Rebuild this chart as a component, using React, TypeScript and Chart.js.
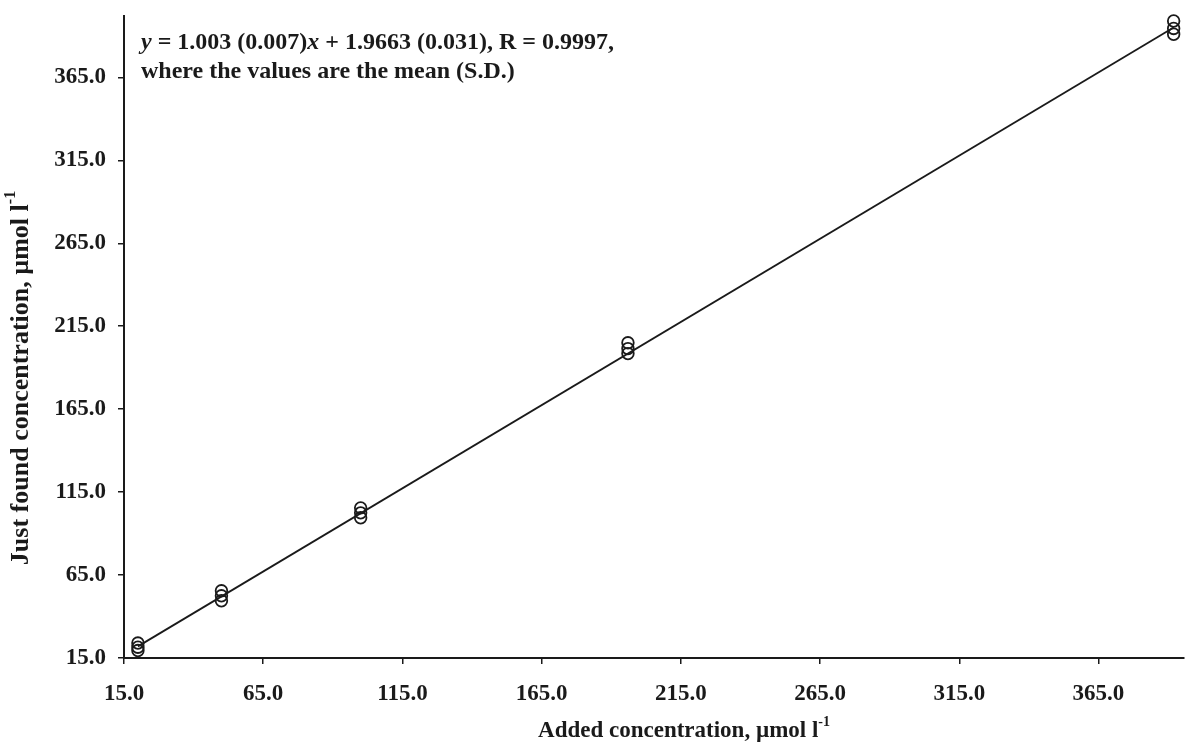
import React, { useEffect, useRef } from "react";
import { Chart, registerables } from "chart.js";

Chart.register(...registerables);

// ---- data ----
const addedX = [20, 20, 20, 50, 50, 50, 100, 100, 100, 196, 196, 196, 392, 392, 392];
const foundY = [19.5, 21.5, 24.0, 49.5, 52.5, 55.5, 99.5, 102.5, 105.5, 198.5, 201.5, 205.0, 391.0, 394.5, 399.0];
const fitX = [20, 392];
const fitY = [22.0, 395.1];
const xTicks = [15, 65, 115, 165, 215, 265, 315, 365];
const yTicks = [15, 65, 115, 165, 215, 265, 315, 365];
const xTitle = "Added concentration, \u00b5mol l";
const yTitle = "Just found concentration, \u00b5mol l";
const unitSup = "-1";
const eqLine1 = [
  { t: "y", i: true },
  { t: " = 1.003 (0.007)", i: false },
  { t: "x", i: true },
  { t: " + 1.9663 (0.031), R = 0.9997,", i: false },
];
const eqLine2 = "where the values are the mean (S.D.)";

const FONT = "'Liberation Serif', 'Times New Roman', serif";
const INK = "#1a1a1a";

type Seg = { t: string; i?: boolean; sup?: boolean };

function segFont(s: Seg, size: number) {
  const sz = s.sup ? Math.round(size * 0.6) : size;
  return `${s.i ? "italic " : ""}bold ${sz}px ${FONT}`;
}

function drawRich(ctx: CanvasRenderingContext2D, segs: Seg[], x: number, y: number, size: number, align: "left" | "center") {
  let total = 0;
  const widths = segs.map((s) => {
    ctx.font = segFont(s, size);
    const w = ctx.measureText(s.t).width;
    total += w;
    return w;
  });
  let cx = align === "center" ? x - total / 2 : x;
  ctx.textAlign = "left";
  ctx.textBaseline = "middle";
  segs.forEach((s, k) => {
    ctx.font = segFont(s, size);
    ctx.fillText(s.t, cx, s.sup ? y - size * 0.38 : y);
    cx += widths[k];
  });
}

const textPlugin = {
  id: "textPlugin",
  afterDraw(chart: any) {
    const ctx: CanvasRenderingContext2D = chart.ctx;
    ctx.save();
    ctx.fillStyle = INK;
    // annotation
    drawRich(ctx, eqLine1, 141, 43, 24, "left");
    drawRich(ctx, [{ t: eqLine2 }], 141, 72, 24, "left");
    // x title
    drawRich(ctx, [{ t: xTitle }, { t: unitSup, sup: true }], 684, 731, 23, "center");
    // y title
    ctx.translate(21, 378);
    ctx.rotate(-Math.PI / 2);
    drawRich(ctx, [{ t: yTitle }, { t: unitSup, sup: true }], 0, 0, 26, "center");
    ctx.restore();
  },
};

function zeroPad(scale: any) {
  scale.paddingTop = 0;
  scale.paddingBottom = 0;
  scale.paddingLeft = 0;
  scale.paddingRight = 0;
}

export default function App() {
  const ref = useRef<HTMLCanvasElement | null>(null);

  useEffect(() => {
    document.body.style.margin = "0";
    document.body.style.background = "#ffffff";
    const canvas = ref.current;
    if (!canvas) return;
    const points = addedX.map((x, k) => ({ x, y: foundY[k] }));
    const fit = fitX.map((x, k) => ({ x, y: fitY[k] }));
    const tickFont = { family: FONT, size: 23, weight: "bold" as const };

    const chart = new Chart(canvas, {
      type: "scatter",
      data: {
        datasets: [
          {
            label: "fit",
            data: fit,
            showLine: true,
            borderColor: INK,
            borderWidth: 1.8,
            pointRadius: 0,
            clip: false as any,
          },
          {
            label: "measured",
            data: points,
            pointStyle: "circle",
            pointRadius: 5.8,
            pointBorderWidth: 1.8,
            borderColor: INK,
            backgroundColor: "rgba(0,0,0,0)",
            clip: false as any,
          },
        ],
      },
      options: {
        animation: false,
        responsive: false,
        maintainAspectRatio: false,
        layout: { padding: { top: 16, right: 3, left: 0, bottom: 0 } },
        plugins: {
          legend: { display: false },
          tooltip: { enabled: false },
          title: { display: false },
        },
        scales: {
          x: {
            type: "linear",
            min: 15,
            max: 395.5,
            afterBuildTicks: (scale: any) => {
              scale.ticks = xTicks.map((v) => ({ value: v }));
            },
            afterFit: (scale: any) => {
              scale.height = 85;
              zeroPad(scale);
            },
            ticks: {
              autoSkip: false,
              maxRotation: 0,
              padding: 16,
              color: INK,
              font: tickFont,
              callback: (v: any) => Number(v).toFixed(1),
            },
            grid: {
              display: true,
              drawOnChartArea: false,
              drawTicks: true,
              tickLength: 6,
              color: INK,
              lineWidth: 1.5,
            },
            border: { display: true, color: INK, width: 2 },
          },
          y: {
            type: "linear",
            min: 15,
            max: 402,
            afterBuildTicks: (scale: any) => {
              scale.ticks = yTicks.map((v) => ({ value: v }));
            },
            afterFit: (scale: any) => {
              scale.width = 124;
              zeroPad(scale);
            },
            ticks: {
              autoSkip: false,
              padding: 12,
              color: INK,
              font: tickFont,
              callback: (v: any) => Number(v).toFixed(1),
            },
            grid: {
              display: true,
              drawOnChartArea: false,
              drawTicks: true,
              tickLength: 6,
              color: INK,
              lineWidth: 1.5,
            },
            border: { display: true, color: INK, width: 2 },
          },
        },
      },
      plugins: [textPlugin],
    });
    return () => chart.destroy();
  }, []);

  return (
    <div style={{ position: "absolute", left: 0, top: 0, width: 1191, height: 743 }}>
      <canvas ref={ref} width={1191} height={743} style={{ display: "block", width: 1191, height: 743 }} />
    </div>
  );
}
